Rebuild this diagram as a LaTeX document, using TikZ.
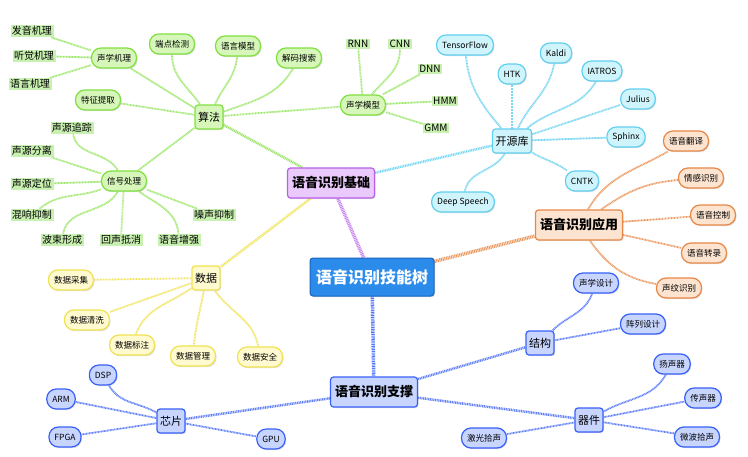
\documentclass[tikz,border=0pt]{standalone}
\usepackage{fontspec}
\setmainfont{Noto Sans CJK SC}
\usepackage{tikz}
\usetikzlibrary{shadows, backgrounds}
\definecolor{rootblue}{RGB}{43, 139, 235}
\definecolor{rootrim}{RGB}{26, 100, 190}
\definecolor{basepurple}{RGB}{184, 96, 232}
\definecolor{basefill}{RGB}{234, 202, 252}
\definecolor{algogreen}{RGB}{128, 224, 64}
\definecolor{algofill}{RGB}{214, 246, 186}
\definecolor{taggreen}{RGB}{200, 240, 176}
\definecolor{libcyan}{RGB}{96, 208, 240}
\definecolor{libfill}{RGB}{208, 244, 252}
\definecolor{appsorange}{RGB}{232, 136, 72}
\definecolor{appsfill}{RGB}{252, 228, 208}
\definecolor{datayellow}{RGB}{240, 226, 80}
\definecolor{datafill}{RGB}{255, 250, 208}
\definecolor{hwblue}{RGB}{56, 96, 248}
\definecolor{hwfill}{RGB}{200, 214, 255}

\tikzset{
  softshadow/.style={drop shadow={shadow xshift=1pt, shadow yshift=-1.2pt, opacity=0.25}},
  rootbox/.style={fill=rootblue, draw=rootrim, line width=1pt, rounded corners=3pt, text=white,
                  font=\fontsize{16}{18}\selectfont\bfseries, minimum height=38pt, inner xsep=6pt, softshadow},
  topicbox/.style 2 args={draw=#1, fill=#2, line width=1.2pt, rounded corners=3pt,
                  font=\fontsize{13}{15}\selectfont\bfseries, minimum height=30pt, inner xsep=4.5pt, softshadow},
  groupbox/.style 2 args={draw=#1, fill=#2, line width=1.2pt, rounded corners=3pt,
                  font=\fontsize{11}{13}\selectfont, minimum height=24pt, minimum width=27pt,
                  inner sep=3pt, softshadow},
  leafpill/.style 2 args={draw=#1, fill=#2, line width=1.2pt, rounded corners=9.5pt,
                  font=\fontsize{8.5}{10}\selectfont, minimum height=20pt, inner xsep=5.5pt, softshadow},
  greentag/.style={fill=taggreen, inner xsep=1.5pt, inner ysep=1.5pt, font=\fontsize{10}{12}\selectfont},
  twig/.style={#1, line width=1.8pt, dash pattern=on 0.9pt off 0.6pt},
  branch/.style={#1, line width=2.5pt, dash pattern=on 1pt off 0.7pt},
  trunk/.style={#1, line width=3.5pt, dash pattern=on 1pt off 0.7pt}
}

\begin{document}
\begin{tikzpicture}[x=1pt, y=-1pt]
    \useasboundingbox (0,0) rectangle (748,456);

    % root and main topics
    \node[rootbox] (root) at (372,277) {语音识别技能树};
    \node[topicbox={basepurple}{basefill}] (base) at (331,183) {语音识别基础};
    \node[topicbox={appsorange}{appsfill}] (apps) at (579,225) {语音识别应用};
    \node[topicbox={hwblue}{hwfill}] (supp) at (374,392) {语音识别支撑};

    % groups
    \node[groupbox={algogreen}{algofill}] (algo) at (209,117) {算法};
    \node[groupbox={libcyan}{libfill}] (lib) at (512,141) {开源库};
    \node[groupbox={datayellow}{datafill}] (data) at (206,278) {数据};
    \node[groupbox={hwblue}{hwfill}] (struct) at (540,343) {结构};
    \node[groupbox={hwblue}{hwfill}] (parts) at (589,420) {器件};
    \node[groupbox={hwblue}{hwfill}] (chip) at (171,421) {芯片};

    % algorithms
    \node[leafpill={algogreen}{algofill}] (acoustic) at (114,58) {声学机理};
    \node[leafpill={algogreen}{algofill}] (endpoint) at (172,44) {端点检测};
    \node[leafpill={algogreen}{algofill}] (langmodel) at (238,46) {语言模型};
    \node[leafpill={algogreen}{algofill}] (decode) at (299,58) {解码搜索};
    \node[leafpill={algogreen}{algofill}] (feature) at (98,100) {特征提取};
    \node[leafpill={algogreen}{algofill}] (acmodel) at (363,105) {声学模型};
    \node[leafpill={algogreen}{algofill}] (signal) at (124,181) {信号处理};

    \node[greentag] (fayin) at (32,31) {发音机理};
    \node[greentag] (tingjue) at (34,56) {听觉机理};
    \node[greentag] (yuyan) at (30,84) {语言机理};
    \node[greentag] (rnn) at (358,44) {RNN};
    \node[greentag] (cnn) at (400,44) {CNN};
    \node[greentag] (dnn) at (430,69) {DNN};
    \node[greentag] (hmm) at (445,101) {HMM};
    \node[greentag] (gmm) at (436,128) {GMM};
    \node[greentag] (zhuizong) at (72,128) {声源追踪};
    \node[greentag] (fenli) at (32,151) {声源分离};
    \node[greentag] (dingwei) at (32,184) {声源定位};
    \node[greentag] (hunxiang) at (32,215) {混响抑制};
    \node[greentag] (zaosheng) at (214,215) {噪声抑制};
    \node[greentag] (boshu) at (62,240) {波束形成};
    \node[greentag] (huisheng) at (121,240) {回声抵消};
    \node[greentag] (zengqiang) at (179,240) {语音增强};

    % open source libraries
    \node[leafpill={libcyan}{libfill}] (tf) at (465,45) {TensorFlow};
    \node[leafpill={libcyan}{libfill}] (htk) at (512,74) {HTK};
    \node[leafpill={libcyan}{libfill}] (kaldi) at (556,53) {Kaldi};
    \node[leafpill={libcyan}{libfill}] (iatros) at (602,71) {IATROS};
    \node[leafpill={libcyan}{libfill}] (julius) at (638,99) {Julius};
    \node[leafpill={libcyan}{libfill}] (sphinx) at (626,137) {Sphinx};
    \node[leafpill={libcyan}{libfill}] (cntk) at (582,181) {CNTK};
    \node[leafpill={libcyan}{libfill}] (deepspeech) at (463,202) {Deep Speech};

    % applications
    \node[leafpill={appsorange}{appsfill}] (fanyi) at (686,141) {语音翻译};
    \node[leafpill={appsorange}{appsfill}] (qinggan) at (701,178) {情感识别};
    \node[leafpill={appsorange}{appsfill}] (kongzhi) at (713,215) {语音控制};
    \node[leafpill={appsorange}{appsfill}] (zhuanlu) at (704,253) {语音转录};
    \node[leafpill={appsorange}{appsfill}] (shengwen) at (679,288) {声纹识别};

    % data
    \node[leafpill={datayellow}{datafill}] (caiji) at (71,280) {数据采集};
    \node[leafpill={datayellow}{datafill}] (qingxi) at (87,320) {数据清洗};
    \node[leafpill={datayellow}{datafill}] (biaozhu) at (132,345) {数据标注};
    \node[leafpill={datayellow}{datafill}] (guanli) at (193,356) {数据管理};
    \node[leafpill={datayellow}{datafill}] (anquan) at (260,357) {数据安全};

    % support
    \node[leafpill={hwblue}{hwfill}] (shengxue) at (596,283) {声学设计};
    \node[leafpill={hwblue}{hwfill}] (zhenlie) at (643,324) {阵列设计};
    \node[leafpill={hwblue}{hwfill}] (yangsheng) at (672,364) {扬声器};
    \node[leafpill={hwblue}{hwfill}] (chuansheng) at (703,398) {传声器};
    \node[leafpill={hwblue}{hwfill}] (weibo) at (697,437) {微波拾声};
    \node[leafpill={hwblue}{hwfill}] (jiguang) at (484,438) {激光拾声};
    \node[leafpill={hwblue}{hwfill}] (gpu) at (271,439) {GPU};
    \node[leafpill={hwblue}{hwfill}] (dsp) at (103,375) {DSP};
    \node[leafpill={hwblue}{hwfill}] (arm) at (61,399) {ARM};
    \node[leafpill={hwblue}{hwfill}] (fpga) at (65,437) {FPGA};

    \begin{scope}[on background layer]
        \fill[white] (0,0) rectangle (748,456);
        % trunks
        \draw[trunk=basepurple!75] (root) -- (base);
        \draw[trunk=appsorange!85] (root) -- (apps);
        \draw[trunk=hwblue!85] (root) -- (supp);
        % branches
        \draw[branch=algogreen!80] (base) -- (algo);
        \draw[branch=datayellow!90] (base) -- (data);
        \draw[branch=libcyan!85] (base) -- (lib);
        \draw[branch=hwblue!80] (supp) -- (struct);
        \draw[branch=hwblue!80] (supp) -- (parts);
        \draw[branch=hwblue!80] (supp) -- (chip);
        \draw[twig=algogreen!75] (algo) -- (acmodel);
        \draw[twig=algogreen!75] (algo) -- (signal);
        % algorithm twigs
        \draw[twig=algogreen!75] (fayin) -- (acoustic);
        \draw[twig=algogreen!75] (tingjue) -- (acoustic);
        \draw[twig=algogreen!75] (yuyan) -- (acoustic);
        \draw[twig=algogreen!75] (acoustic) -- (algo);
        \draw[twig=algogreen!75] (endpoint) to[out=-90, in=125] (algo);
        \draw[twig=algogreen!75] (langmodel) to[out=-95, in=65] (algo);
        \draw[twig=algogreen!75] (decode) to[out=-120, in=20] (algo);
        \draw[twig=algogreen!75] (feature) -- (algo);
        \draw[twig=algogreen!75] (rnn) -- (acmodel);
        \draw[twig=algogreen!75] (cnn) to[out=-90, in=50] (acmodel);
        \draw[twig=algogreen!75] (dnn) -- (acmodel);
        \draw[twig=algogreen!75] (hmm) -- (acmodel);
        \draw[twig=algogreen!75] (gmm) -- (acmodel);
        \draw[twig=algogreen!75] (zhuizong) to[out=-80, in=120] (signal);
        \draw[twig=algogreen!75] (fenli) -- (signal);
        \draw[twig=algogreen!75] (dingwei) -- (signal);
        \draw[twig=algogreen!75] (hunxiang) to[out=40, in=-160] (signal);
        \draw[twig=algogreen!75] (boshu) to[out=80, in=-120] (signal);
        \draw[twig=algogreen!75] (huisheng) -- (signal);
        \draw[twig=algogreen!75] (zengqiang) to[out=95, in=-35] (signal);
        \draw[twig=algogreen!75] (zaosheng) -- (signal);
        % library twigs
        \draw[twig=libcyan!85] (tf) to[out=-85, in=130] (lib);
        \draw[twig=libcyan!85] (htk) -- (lib);
        \draw[twig=libcyan!85] (kaldi) to[out=-100, in=65] (lib);
        \draw[twig=libcyan!85] (iatros) to[out=-120, in=40] (lib);
        \draw[twig=libcyan!85] (julius) -- (lib);
        \draw[twig=libcyan!85] (sphinx) -- (lib);
        \draw[twig=libcyan!85] (cntk) to[out=145, in=-30] (lib);
        \draw[twig=libcyan!85] (deepspeech) to[out=80, in=-120] (lib);
        % application twigs
        \draw[twig=appsorange!85] (fanyi) to[out=-150, in=60] (apps);
        \draw[twig=appsorange!85] (qinggan) to[out=185, in=35] (apps);
        \draw[twig=appsorange!85] (kongzhi) -- (apps);
        \draw[twig=appsorange!85] (zhuanlu) -- (apps);
        \draw[twig=appsorange!85] (shengwen) to[out=170, in=-55] (apps);
        % data twigs
        \draw[twig=datayellow!90] (caiji) -- (data);
        \draw[twig=datayellow!90] (qingxi) -- (data);
        \draw[twig=datayellow!90] (biaozhu) to[out=70, in=-145] (data);
        \draw[twig=datayellow!90] (guanli) to[out=85, in=-100] (data);
        \draw[twig=datayellow!90] (anquan) to[out=100, in=-55] (data);
        % support twigs
        \draw[twig=hwblue!80] (shengxue) to[out=-110, in=45] (struct);
        \draw[twig=hwblue!80] (zhenlie) -- (struct);
        \draw[twig=hwblue!80] (yangsheng) to[out=-120, in=30] (parts);
        \draw[twig=hwblue!80] (chuansheng) -- (parts);
        \draw[twig=hwblue!80] (weibo) -- (parts);
        \draw[twig=hwblue!80] (jiguang) -- (parts);
        \draw[twig=hwblue!80] (dsp) to[out=-60, in=150] (chip);
        \draw[twig=hwblue!80] (arm) -- (chip);
        \draw[twig=hwblue!80] (fpga) -- (chip);
        \draw[twig=hwblue!80] (chip) to[out=-10, in=170] (gpu);
    \end{scope}
\end{tikzpicture}
\end{document}
